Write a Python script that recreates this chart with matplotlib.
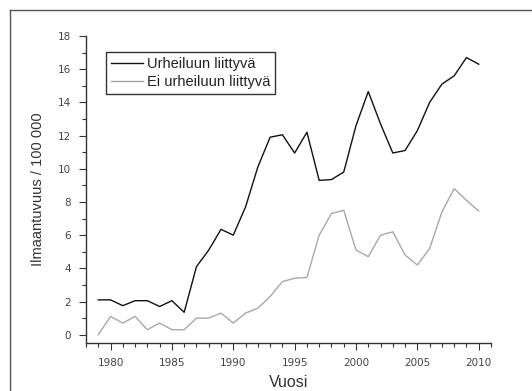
import matplotlib.pyplot as plt
from matplotlib.lines import Line2D
from matplotlib.ticker import MultipleLocator

years = list(range(1979, 2011))
urheilu = [2.1, 2.1, 1.75, 2.05, 2.05, 1.7, 2.05, 1.35, 4.1, 5.1, 6.35, 6.0,
           7.7, 10.1, 11.9, 12.05, 10.95, 12.2, 9.3, 9.35, 9.8, 12.6, 14.65,
           12.7, 10.95, 11.1, 12.3, 14.0, 15.1, 15.6, 16.7, 16.3]
ei_urheilu = [0.0, 1.1, 0.7, 1.1, 0.3, 0.7, 0.3, 0.3, 1.0, 1.0, 1.3, 0.7,
              1.3, 1.6, 2.3, 3.2, 3.4, 3.45, 6.0, 7.3, 7.5, 5.1, 4.7, 6.0,
              6.2, 4.8, 4.2, 5.2, 7.4, 8.8, 8.1, 7.45]

plt.rcParams['font.family'] = ['Liberation Sans', 'DejaVu Sans']

W, H = 532, 391
fig = plt.figure(figsize=(W / 100, H / 100), dpi=100)
ax = fig.add_axes([86 / W, 1 - 343 / H, (491 - 86) / W, (343 - 36) / H])

ax.plot(years, urheilu, color='#111111', lw=1.0, label='Urheiluun liittyvä')
ax.plot(years, ei_urheilu, color='#a8a8a8', lw=1.0, label='Ei urheiluun liittyvä')

ax.set_xlim(1978, 2011)
ax.set_ylim(-0.5, 18)
ax.xaxis.set_major_locator(MultipleLocator(5))
ax.xaxis.set_minor_locator(MultipleLocator(1))
ax.yaxis.set_major_locator(MultipleLocator(2))
ax.yaxis.set_minor_locator(MultipleLocator(1))
ax.set_xticks(range(1980, 2011, 5))

for s in ['top', 'right']:
    ax.spines[s].set_visible(False)
for s in ['left', 'bottom']:
    ax.spines[s].set_color('#333333')
    ax.spines[s].set_linewidth(1.0)

ax.tick_params(which='major', length=5, width=0.8, color='#333333',
               labelsize=7.5, labelcolor='#444444', pad=6)
ax.tick_params(which='minor', length=3, width=0.8, color='#333333')
for lab in ax.get_xticklabels() + ax.get_yticklabels():
    lab.set_fontfamily('DejaVu Sans')

ax.set_xlabel('Vuosi', fontsize=11.5, color='#333333', labelpad=5)
ax.set_ylabel('Ilmaantuvuus / 100 000', fontsize=10.5, color='#333333', labelpad=9)

leg = ax.legend(loc='upper left', bbox_to_anchor=(0.049, 0.947), fontsize=10.5,
                frameon=True, fancybox=False, framealpha=1, edgecolor='#333333',
                handlelength=2.2, handletextpad=0.25, borderpad=0.35,
                labelspacing=0.25, borderaxespad=0)
leg.get_frame().set_linewidth(1.0)
for t in leg.get_texts():
    t.set_color('#222222')

# outer frame (top and left edges visible)
fig.add_artist(Line2D([10 / W, 1], [1 - 10 / H, 1 - 10 / H], color='#555555', lw=1.0,
                      transform=fig.transFigure))
fig.add_artist(Line2D([10 / W, 10 / W], [0, 1 - 10 / H], color='#555555', lw=1.0,
                      transform=fig.transFigure))

fig.savefig('out.png', dpi=100)
